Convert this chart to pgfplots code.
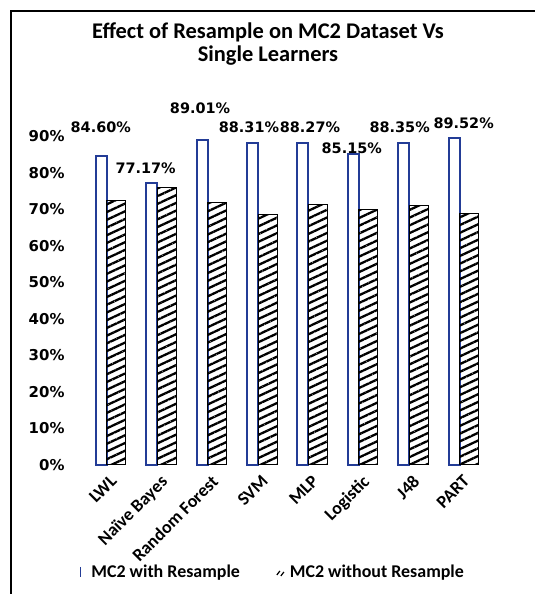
\documentclass[border=0pt]{standalone}
\usepackage{pgfplots}
\pgfplotsset{compat=1.18}
\usepackage{fontspec}
\setmainfont{Carlito}
\newfontfamily\dvs{DejaVu Sans}
\usetikzlibrary{patterns.meta}
\definecolor{barblue}{RGB}{35,60,150}

\begin{document}
\begin{tikzpicture}[x=1bp,y=1bp]
\useasboundingbox (0,0) rectangle (535,594);
\draw[line width=2.5bp] (11,-10) -- (11,583) -- (545,583);
\node[font=\fontsize{22.5}{24}\selectfont\bfseries, align=center] at (268,550) {Effect of Resample on MC2 Dataset Vs\\Single Learners};
\begin{axis}[
  at={(68bp,129bp)}, anchor=south west,
  scale only axis, width=437bp, height=365bp,
  xmin=-0.85, xmax=7.82, ymin=0, ymax=100,
  axis line style={draw=none},
  major tick length=0pt,
  xtick={0,...,7},
  xticklabels={LWL,Naïve Bayes,Random Forest,SVM,MLP,Logistic,J48,PART},
  xticklabel style={rotate=45, anchor=north east, font=\fontsize{18}{20}\selectfont\bfseries, xshift=-4bp, yshift=-2bp},
  ytick={0,10,20,30,40,50,60,70,80,90},
  yticklabels={0\%,10\%,20\%,30\%,40\%,50\%,60\%,70\%,80\%,90\%},
  yticklabel style={font=\dvs\bfseries\fontsize{15}{16}\selectfont},
  legend style={at={(0.466,-0.293)}, anchor=center, draw=none, fill=none, legend columns=2,
    font=\fontsize{18}{20}\selectfont\bfseries,
    /tikz/every even column/.append style={column sep=34bp}},
  clip=false,
]
\addplot[ybar, bar width=11bp, bar shift=-9.5bp, fill=white, draw=barblue, line width=2bp,
  legend image code/.code={\draw[barblue, line width=1.5bp] (3bp,-5bp) -- (3bp,5bp); \path[draw=none, fill=none] (0bp,0bp) rectangle (12bp,0.1bp);}]
  coordinates {(0,84.60) (1,77.17) (2,89.01) (3,88.31) (4,88.27) (5,85.15) (6,88.35) (7,89.52)};
\addlegendentry{MC2 with Resample}
\addplot[ybar, bar width=19bp, bar shift=5.5bp, draw=black, line width=1bp,
  pattern={Lines[angle=25, distance=7bp, line width=2.3bp]}, pattern color=black,
  legend image code/.code={\draw[black, line width=1.2bp] (1bp,-3bp) -- (4bp,1bp) (5bp,-4bp) -- (8bp,0bp); \path[draw=none, fill=none] (0bp,0bp) -- (12bp,0bp);}]
  coordinates {(0,72.5) (1,76) (2,72) (3,68.5) (4,71.5) (5,70) (6,71) (7,69)};
\addlegendentry{MC2 without Resample}
\addplot[draw=none, mark=none, forget plot, nodes near coords, point meta=explicit,
  nodes near coords={\pgfmathprintnumber[assume math mode=true, fixed, fixed zerofill, precision=2]{\pgfplotspointmeta}\%},
  nodes near coords style={anchor=center, font=\dvs\bfseries\fontsize{14.5}{16}\selectfont}]
  table[meta=v] {
x y v
-0.20 92.6 84.60
0.69 81.4 77.17
1.77 97.8 89.01
2.74 92.6 88.31
3.95 92.6 88.27
4.78 86.8 85.15
5.73 92.6 88.35
7.00 93.7 89.52
};
\end{axis}
\end{tikzpicture}
\end{document}
